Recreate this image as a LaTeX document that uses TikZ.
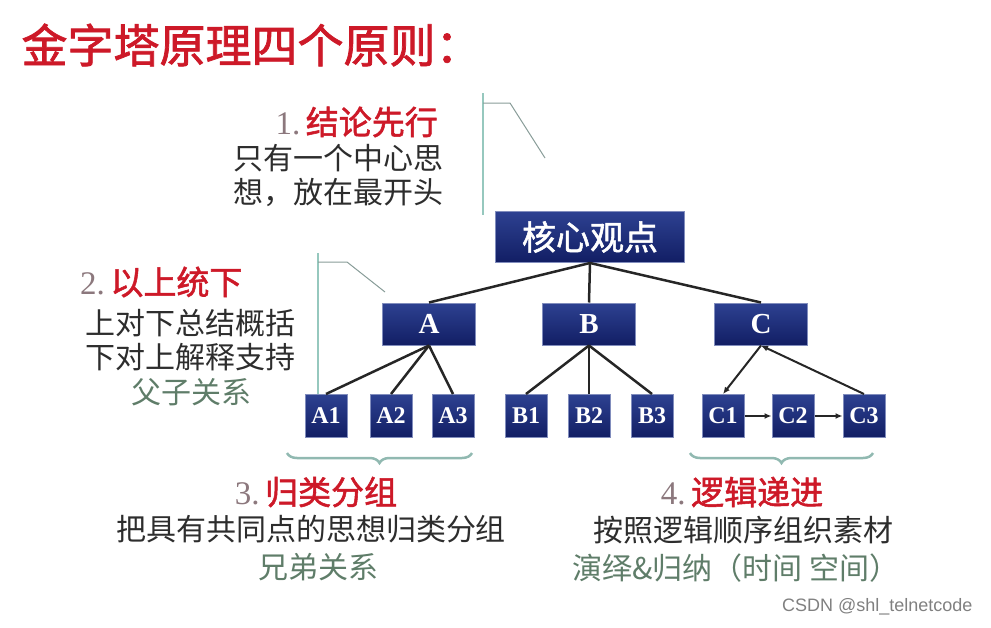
\documentclass[tikz,border=0pt]{standalone}
\usepackage{fontspec}
\setmainfont{Liberation Serif}
\setsansfont{Liberation Sans}
\newfontfamily\cjk{Noto Sans CJK SC}
\newfontfamily\cjkbold[FakeBold=1.6]{Noto Sans CJK SC}
\usepackage{tikz}
\usetikzlibrary{positioning, arrows.meta, decorations.pathreplacing}

\definecolor{navy}{RGB}{18,30,100}
\definecolor{navytop}{RGB}{45,65,145}
\definecolor{headred}{RGB}{205,25,40}
\definecolor{numgray}{RGB}{140,120,125}
\definecolor{tealline}{RGB}{150,200,190}
\definecolor{textgray}{RGB}{45,45,45}
\definecolor{sage}{RGB}{95,125,105}

\tikzset{
  box/.style = {draw=navytop!60!white, line width=1pt, top color=navytop, bottom color=navy, text=white, inner sep=0pt},
  core/.style = {box, minimum width=189pt, minimum height=51pt, font=\cjkbold\fontsize{34}{34}\selectfont},
  mid/.style = {box, minimum width=93pt, minimum height=42pt, font=\bfseries\fontsize{29}{29}\selectfont},
  leaf/.style = {box, minimum width=42pt, minimum height=43pt, font=\bfseries\fontsize{24}{24}\selectfont},
  link/.style = {line width=2.5pt, draw=black!85},
  flow/.style = {link, line width=2pt, -{Latex[length=7pt,width=6pt]}},
  bracket/.style = {draw=tealline, line width=2pt},
  slant/.style = {draw=gray!60!tealline, line width=1pt},
  groupbrace/.style = {draw=tealline!80!gray, line width=2.5pt, decorate, decoration={brace, amplitude=10pt}},
  head/.style = {font=\cjkbold\fontsize{33}{33}\selectfont, text=headred, inner sep=0pt},
  body/.style = {font=\cjk\fontsize{30}{34}\selectfont, text=textgray, align=center, inner sep=0pt}
}

\begin{document}
\begin{tikzpicture}[x=1pt, y=-1pt]
  \useasboundingbox (0,0) rectangle (991,627);

  \node [anchor=west, font=\cjkbold\fontsize{46}{46}\selectfont, text=headred] (title) at (18,45) {金字塔原理四个原则：};

  % pyramid
  \node [core] (core) at (590,237) {核心观点};
  \node [mid] (A) at (429,324) {A};
  \node [mid] (B) at (589,324) {B};
  \node [mid] (C) at (761,324) {C};
  \foreach \leafname/\x in {A1/326, A2/391, A3/453, B1/526, B2/589, B3/652, C1/723, C2/793, C3/864}
    \node [leaf] (\leafname) at (\x,416) {\leafname};

  \foreach \child in {A, B, C}
    \draw [link] (core.south) -- (\child.north);
  \foreach \parent/\child in {A/A1, A/A2, A/A3, B/B1, B/B2, B/B3}
    \draw [link] (\parent.south) -- (\child.north);
  \draw [flow] (C.south) -- (C1.north);
  \draw [flow] (C3.north) -- (C.south);
  \draw [flow] (C1.east) -- (C2.west);
  \draw [flow] (C2.east) -- (C3.west);

  % side marks
  \draw [bracket] (483,93) -- (483,215);
  \draw [slant] (483,103) -- (510,103) -- (545,158);
  \draw [bracket] (318,253) -- (A1.north west -| 318,0);
  \draw [slant] (318,262) -- (347,262) -- (385,292);

  \draw [groupbrace] (472,453) -- (287,453);
  \draw [groupbrace] (873,453) -- (690,453);

  % 1
  \node [head, anchor=east] (h1) at (438,122) {{\color{numgray}\rmfamily\mdseries 1.}\,结论先行};
  \node [body] (b1) at (338,175) {只有一个中心思\\想，放在最开头};

  % 2
  \node [head, anchor=west] (h2) at (80,282) {{\color{numgray}\rmfamily\mdseries 2.}\,以上统下};
  \node [body] (b2) at (190,340) {上对下总结概括\\下对上解释支持};
  \node [body, text=sage] (r2) at (191,392) {父子关系};

  % 3
  \node [head] (h3) at (316,492) {{\color{numgray}\rmfamily\mdseries 3.}\,归类分组};
  \node [body] (b3) at (311,529) {把具有共同点的思想归类分组};
  \node [body, text=sage] (r3) at (318,567) {兄弟关系};

  % 4
  \node [head] (h4) at (742,492) {{\color{numgray}\rmfamily\mdseries 4.}\,逻辑递进};
  \node [body] (b4) at (743,530) {按照逻辑顺序组织素材};
  \node [body, text=sage] (r4) at (736,568) {演绎\&归纳（时间\ 空间）};

  \node [anchor=east, font=\sffamily\fontsize{18}{18}\selectfont, text=gray] (mark) at (976,607) {CSDN @shl\_telnetcode};
\end{tikzpicture}
\end{document}
